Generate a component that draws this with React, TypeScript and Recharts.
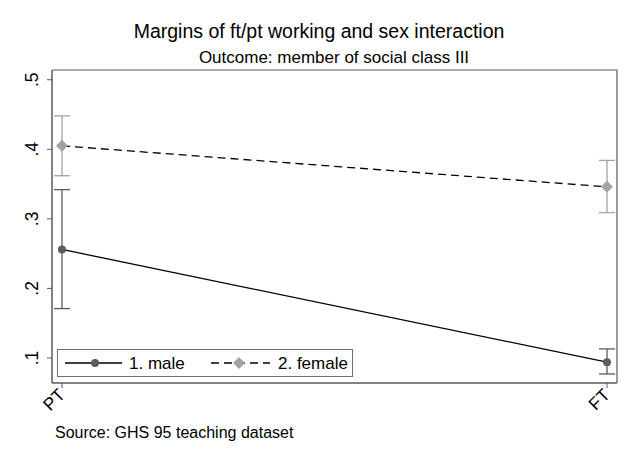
import React from "react"
import { LineChart, Line, XAxis, YAxis, ErrorBar } from "recharts"

document.body.style.margin = "0"

const FONT = "'Liberation Sans', Arial, sans-serif"

const categories = ["PT", "FT"]
const maleMargin = [0.256, 0.094]
const maleLower = [0.171, 0.077]
const maleUpper = [0.342, 0.113]
const femaleMargin = [0.405, 0.346]
const femaleLower = [0.362, 0.309]
const femaleUpper = [0.448, 0.384]
const yTicks = [0.1, 0.2, 0.3, 0.4, 0.5]

const MALE_COLOR = "#5c5c5c"
const FEMALE_COLOR = "#a3a3a3"
const FRAME_COLOR = "#5a5a5a"

const data = categories.map((cat, i) => ({
  cat,
  male: maleMargin[i],
  maleErr: [maleMargin[i] - maleLower[i], maleUpper[i] - maleMargin[i]],
  female: femaleMargin[i],
  femaleErr: [femaleMargin[i] - femaleLower[i], femaleUpper[i] - femaleMargin[i]],
}))

const fmt = (v: number) => v.toFixed(1).replace(/^0/, "")

function YTick({ x, y, payload }: any) {
  const tx = x - 7
  return (
    <text x={tx} y={y} transform={`rotate(-90, ${tx}, ${y})`} textAnchor="middle"
      fontSize={17.5} fontFamily={FONT} fill="#000">
      {fmt(payload.value)}
    </text>
  )
}

function XTick({ x, y, payload }: any) {
  const tx = x + 4
  const ty = y + 6
  return (
    <text x={tx} y={ty} transform={`rotate(-45, ${tx}, ${ty})`} textAnchor="end"
      fontSize={17.5} fontFamily={FONT} fill="#000">
      {payload.value}
    </text>
  )
}

function CircleDot({ cx, cy }: any) {
  return <circle cx={cx} cy={cy} r={4} fill={MALE_COLOR} stroke="none" />
}

function DiamondDot({ cx, cy }: any) {
  const s = 6
  return <path d={`M${cx},${cy - s}L${cx + s},${cy}L${cx},${cy + s}L${cx - s},${cy}Z`} fill={FEMALE_COLOR} stroke="none" />
}

function LegendBox() {
  return (
    <div style={{ position: "absolute", left: 57, top: 349, width: 296, height: 28,
      border: "1px solid #707070", boxSizing: "border-box", background: "#fff" }}>
      <svg width={296} height={28} style={{ position: "absolute", left: -1, top: -1 }}>
        <line x1={8} x2={65} y1={14} y2={14} stroke="#000" strokeWidth={1.3} />
        <circle cx={38} cy={14} r={4} fill={MALE_COLOR} />
        <text x={72} y={20} fontSize={17} fontFamily={FONT}>1. male</text>
        <line x1={154} x2={213} y1={14} y2={14} stroke="#000" strokeWidth={1.3} strokeDasharray="8 5" />
        <path d="M182,8L188,14L182,20L176,14Z" fill={FEMALE_COLOR} />
        <text x={221} y={20} fontSize={17} fontFamily={FONT}>2. female</text>
      </svg>
    </div>
  )
}

export default function App() {
  return (
    <div style={{ position: "relative", width: 640, height: 466, background: "#fff", fontFamily: FONT }}>
      <div style={{ position: "absolute", top: 20, left: 0, width: 640, textAlign: "center", fontSize: 19.5 }}>
        <span style={{ position: "relative", left: -1 }}>Margins of ft/pt working and sex interaction</span>
      </div>
      <div style={{ position: "absolute", top: 48, left: 0, width: 640, textAlign: "center", fontSize: 17 }}>
        <span style={{ position: "relative", left: 14 }}>Outcome: member of social class III</span>
      </div>
      <div style={{ position: "absolute", top: 424, left: 55, fontSize: 16 }}>
        Source: GHS 95 teaching dataset
      </div>
      <LineChart width={640} height={466} data={data}
        margin={{ top: 69, right: 22, bottom: 43, left: 0 }}
        style={{ position: "absolute", left: 0, top: 0 }}>
        <XAxis dataKey="cat" height={40} padding={{ left: 10, right: 10 }}
          axisLine={{ stroke: FRAME_COLOR, strokeWidth: 1.5 }}
          tickLine={{ stroke: FRAME_COLOR }} tickSize={5} tick={<XTick />} interval={0} />
        <XAxis xAxisId="top" dataKey="cat" orientation="top" height={1}
          axisLine={{ stroke: FRAME_COLOR, strokeWidth: 1.2 }} tick={false} tickLine={false} />
        <YAxis width={52} domain={[0.064, 0.514]} ticks={yTicks} type="number"
          axisLine={{ stroke: FRAME_COLOR, strokeWidth: 1.5 }}
          tickLine={{ stroke: FRAME_COLOR }} tickSize={5} tick={<YTick />} />
        <YAxis yAxisId="right" orientation="right" width={1} domain={[0.064, 0.514]}
          axisLine={{ stroke: FRAME_COLOR, strokeWidth: 1.2 }} tick={false} tickLine={false} />
        <Line dataKey="male" stroke="#000" strokeWidth={1.3} dot={<CircleDot />} activeDot={false}
          isAnimationActive={false}>
          <ErrorBar dataKey="maleErr" direction="y" width={8} stroke={MALE_COLOR} strokeWidth={1.3} />
        </Line>
        <Line dataKey="female" stroke="#000" strokeWidth={1.3} strokeDasharray="8 5" dot={<DiamondDot />}
          activeDot={false} isAnimationActive={false}>
          <ErrorBar dataKey="femaleErr" direction="y" width={8} stroke={FEMALE_COLOR} strokeWidth={1.3} />
        </Line>
      </LineChart>
      <LegendBox />
    </div>
  )
}
